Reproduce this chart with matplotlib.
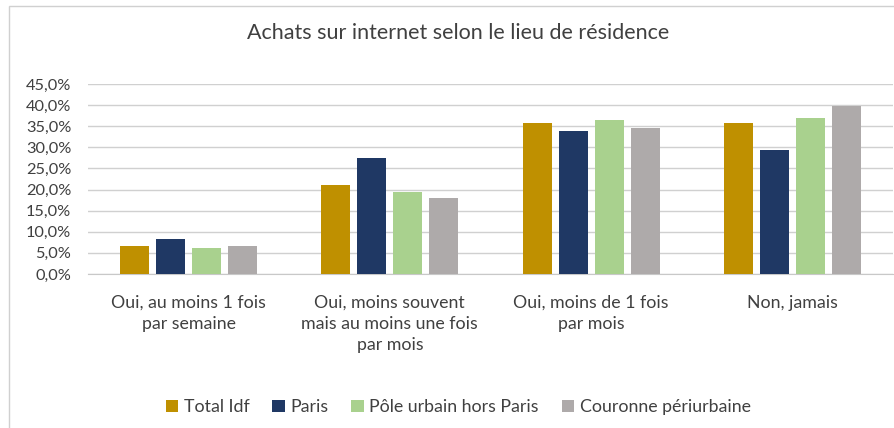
import numpy as np
import matplotlib
matplotlib.use("Agg")
import matplotlib.pyplot as plt
from matplotlib.patches import Rectangle
from matplotlib.ticker import FuncFormatter

# data (shares, %)
categories = ["Oui, au moins 1 fois\npar semaine",
              "Oui, moins souvent\nmais au moins une fois\npar mois",
              "Oui, moins de 1 fois\npar mois",
              "Non, jamais"]
series_names = ["Total Idf", "Paris", "Pôle urbain hors Paris", "Couronne périurbaine"]
total_idf = [6.7, 21.1, 35.8, 35.8]
paris = [8.3, 27.5, 33.9, 29.4]
pole_urbain = [6.2, 19.4, 36.5, 36.9]
couronne = [6.7, 18.0, 34.6, 39.9]
colors = ["#bf9000", "#1f3864", "#a9d18e", "#aeaaaa"]

plt.rcParams['font.family'] = ['Lato', 'DejaVu Sans']

fig = plt.figure(figsize=(8.95, 4.28), dpi=100)
# chart border like the Excel frame
fig.patches.append(Rectangle((9 / 895, -0.01), 1.0, 1 - 6 / 428 + 0.01,
                             transform=fig.transFigure, fill=False,
                             edgecolor="#d0d0d0", lw=1))

ax = fig.add_axes([88 / 895, 1 - 274 / 428, (893 - 88) / 895, (274 - 84) / 428])

values = [total_idf, paris, pole_urbain, couronne]
x = np.arange(len(categories))
pitch = 0.179
width = 0.144
for i, (vals, name, col) in enumerate(zip(values, series_names, colors)):
    ax.bar(x + (i - 1.5) * pitch, vals, width, color=col, label=name, zorder=3)

ax.set_xlim(-0.5, len(categories) - 0.5)
ax.set_ylim(0, 45)
ax.set_yticks(np.arange(0, 46, 5))
ax.yaxis.set_major_formatter(FuncFormatter(lambda v, p: f"{v:.1f}%".replace(".", ",")))
ax.grid(axis="y", color="#d0d0d0", lw=1, zorder=0)
for s in ["top", "right", "left"]:
    ax.spines[s].set_visible(False)
ax.spines["bottom"].set_color("#c8c8c8")
ax.tick_params(axis="both", length=0, labelsize=11.8, colors="#404040")
ax.tick_params(axis="y", pad=12)
ax.set_xticks(x)
ax.set_xticklabels(categories, fontsize=12.8, color="#404040", linespacing=1.4)
ax.tick_params(axis="x", pad=15)

fig.text(458 / 895, 1 - 33 / 428, "Achats sur internet selon le lieu de résidence",
         ha="center", va="center", fontsize=15.5, color="#404040")

fig.legend(loc="center", bbox_to_anchor=(0.512, 1 - 407 / 428), ncol=4,
           frameon=False, fontsize=12.8, handlelength=0.7, handleheight=0.7,
           handletextpad=0.3, columnspacing=1.3, labelcolor="#404040")

fig.savefig("out.png", dpi=100)
